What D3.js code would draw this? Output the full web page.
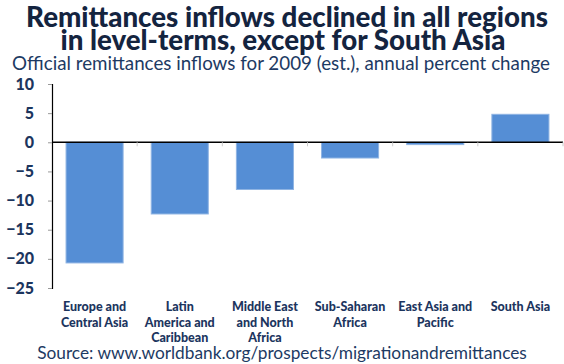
<!DOCTYPE html>
<html><head><meta charset="utf-8">
<script src="https://cdn.jsdelivr.net/npm/d3@7"></script>
<style>body{margin:0;background:#fff}svg{display:block}</style>
</head><body>
<svg id="c" width="564" height="364"></svg>
<script>
const categories = [
  ["Europe and","Central Asia"],
  ["Latin","America and","Caribbean"],
  ["Middle East","and North","Africa"],
  ["Sub-Saharan","Africa"],
  ["East Asia and","Pacific"],
  ["South Asia"]
];
const values = [-20.7, -12.3, -8.1, -2.7, -0.4, 4.8];
const yTicks = [10, 5, 0, -5, -10, -15, -20, -25];
const titleLines = ["Remittances inflows declined in all regions","in level-terms, except for South Asia"];
const subtitle = "Official remittances inflows for 2009 (est.), annual percent change";
const source = "Source:  www.worldbank.org/prospects/migrationandremittances";

const svg = d3.select("#c");
const navy = "#1c355e";
const L = 52, R = 563, T = 84, B = 288;

function fit(sel, w){
  const len = sel.node().getComputedTextLength();
  const fs = parseFloat(sel.attr("font-size"));
  sel.attr("font-size", fs * w / len);
}

const t1 = svg.append("text").attr("x",287).attr("y",27).attr("text-anchor","middle")
  .attr("font-family","Lato").attr("font-weight",900).attr("font-size",24)
  .attr("fill","#14243f").text(titleLines[0]);
fit(t1, 522);
const t2 = svg.append("text").attr("x",283).attr("y",50).attr("text-anchor","middle")
  .attr("font-family","Lato").attr("font-weight",900).attr("font-size",+t1.attr("font-size"))
  .attr("fill","#14243f").text(titleLines[1]);
const st = svg.append("text").attr("x",281).attr("y",70).attr("text-anchor","middle")
  .attr("font-family","Lato").attr("font-weight",400).attr("font-size",15)
  .attr("fill","#1d3a63").text(subtitle);
fit(st, 538);

const x = d3.scaleBand().domain(d3.range(values.length)).range([L, R]).paddingInner(0.33).paddingOuter(0.165);
const y = d3.scaleLinear().domain([-25, 10]).range([B, T]);

// bars
svg.append("g").selectAll("rect").data(values).join("rect")
  .attr("x",(d,i)=>x(i)).attr("width",x.bandwidth())
  .attr("y",d=>y(Math.max(0,d))).attr("height",d=>Math.abs(y(d)-y(0)))
  .attr("fill","#558ed5").attr("stroke","#8fb4e3").attr("stroke-width",1);

// y axis
const ya = svg.append("g").attr("transform",`translate(${L},0)`)
  .call(d3.axisLeft(y).tickValues(yTicks).tickSize(4).tickPadding(14).tickFormat(d3.format("d")));
ya.select(".domain").attr("stroke","#000").attr("stroke-width",1.2);
ya.selectAll(".tick line").attr("stroke","#999");
ya.selectAll(".tick text").attr("font-family","Lato").attr("font-weight",900).attr("font-size",16).attr("fill",navy);

// x axis at zero
const xa = svg.append("g").attr("transform",`translate(0,${y(0)})`);
xa.append("line").attr("x1",L).attr("x2",R).attr("stroke","#000").attr("stroke-width",1.5);
xa.selectAll(".tk").data(d3.range(values.length)).join("line")
  .attr("x1",i=>L+(i+1)*(R-L)/values.length).attr("x2",i=>L+(i+1)*(R-L)/values.length)
  .attr("y1",0).attr("y2",4).attr("stroke","#ccc");

// category labels
const cl = svg.append("g");
categories.forEach((lines,i)=>{
  const cx = x(i)+x.bandwidth()/2;
  const t = cl.append("text").attr("text-anchor","middle").attr("font-family","Lato")
    .attr("font-weight",900).attr("font-size",12.5).attr("fill",navy);
  lines.forEach((s,j)=>t.append("tspan").attr("x",cx).attr("y",311+j*15.5).text(s));
});

const so = svg.append("text").attr("x",282).attr("y",359).attr("text-anchor","middle")
  .attr("font-family","Lato").attr("font-size",14).attr("fill","#1d3a63").text(source);
fit(so, 490);
</script>
</body></html>
